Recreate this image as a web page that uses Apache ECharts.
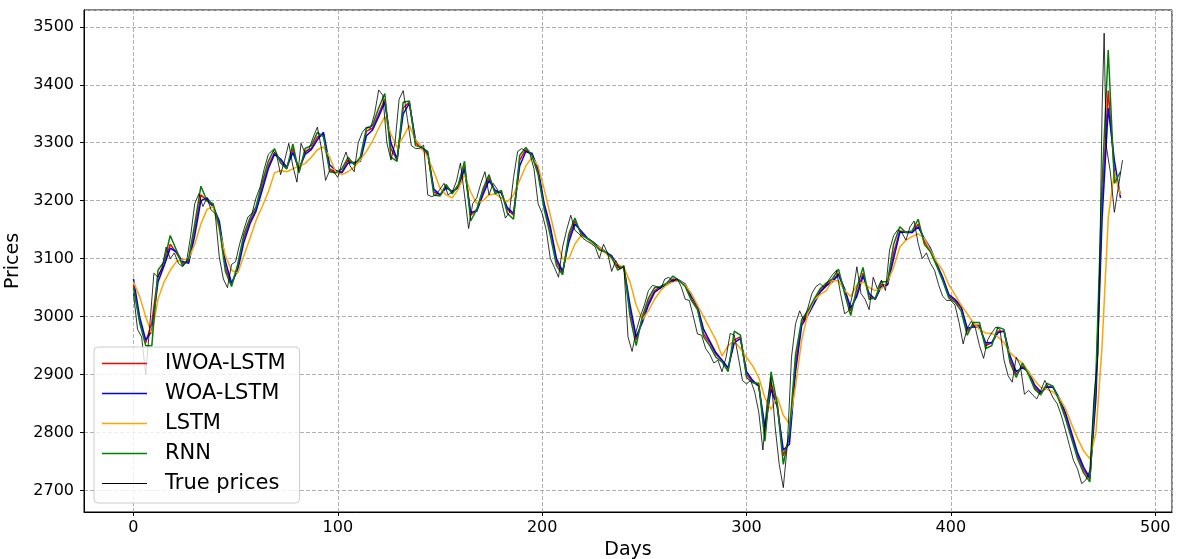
<!DOCTYPE html>
<html>
<head>
<meta charset="utf-8">
<script src="https://cdn.jsdelivr.net/npm/echarts@6/dist/echarts.min.js"></script>
<style>
  html, body { margin: 0; padding: 0; background: #fff; }
  #chart { width: 1177px; height: 559px; }
</style>
</head>
<body>
<div id="chart"></div>
<script>
// true prices, every second day
const trueDays = [
  0, 2, 4, 6, 8, 10, 12, 14, 16, 18,
  20, 22, 24, 26, 28, 30, 32, 34, 36, 38,
  40, 42, 44, 46, 48, 50, 52, 54, 56, 58,
  60, 62, 64, 66, 68, 70, 72, 74, 76, 78,
  80, 82, 84, 86, 88, 90, 92, 94, 96, 98,
  100, 102, 104, 106, 108, 110, 112, 114, 116, 118,
  120, 122, 124, 126, 128, 130, 132, 134, 136, 138,
  140, 142, 144, 146, 148, 150, 152, 154, 156, 158,
  160, 162, 164, 166, 168, 170, 172, 174, 176, 178,
  180, 182, 184, 186, 188, 190, 192, 194, 196, 198,
  200, 202, 204, 206, 208, 210, 212, 214, 216, 218,
  220, 222, 224, 226, 228, 230, 232, 234, 236, 238,
  240, 242, 244, 246, 248, 250, 252, 254, 256, 258,
  260, 262, 264, 266, 268, 270, 272, 274, 276, 278,
  280, 282, 284, 286, 288, 290, 292, 294, 296, 298,
  300, 302, 304, 306, 308, 310, 312, 314, 316, 318,
  320, 322, 324, 326, 328, 330, 332, 334, 336, 338,
  340, 342, 344, 346, 348, 350, 352, 354, 356, 358,
  360, 362, 364, 366, 368, 370, 372, 374, 376, 378,
  380, 382, 384, 386, 388, 390, 392, 394, 396, 398,
  400, 402, 404, 406, 408, 410, 412, 414, 416, 418,
  420, 422, 424, 426, 428, 430, 432, 434, 436, 438,
  440, 442, 444, 446, 448, 450, 452, 454, 456, 458,
  460, 462, 464, 466, 468, 470, 472, 473, 474, 475,
  476, 478, 480, 482, 484
]
const truePrices = [
  3040, 2978, 2965, 2900, 2985, 3075, 3068, 3085, 3120, 3100,
  3110, 3092, 3086, 3095, 3140, 3195, 3212, 3190, 3205, 3184,
  3178, 3103, 3065, 3050, 3090, 3095, 3126, 3150, 3172, 3178,
  3205, 3224, 3255, 3280, 3287, 3280, 3245, 3270, 3299, 3260,
  3232, 3299, 3282, 3290, 3310, 3327, 3290, 3235, 3252, 3250,
  3240, 3265, 3284, 3260, 3250, 3300, 3318, 3327, 3325, 3350,
  3391, 3382, 3300, 3270, 3300, 3375, 3390, 3342, 3295, 3290,
  3290, 3296, 3210, 3207, 3210, 3220, 3230, 3210, 3215, 3233,
  3265, 3210, 3152, 3195, 3205, 3230, 3250, 3210, 3230, 3220,
  3200, 3170, 3180, 3240, 3285, 3290, 3285, 3281, 3255, 3195,
  3178, 3149, 3100, 3085, 3068, 3120, 3150, 3175, 3149, 3143,
  3135, 3130, 3126, 3120, 3100, 3125, 3110, 3078, 3097, 3082,
  3086, 2965, 2940, 2975, 3000, 3020, 3045, 3054, 3052, 3048,
  3065, 3068, 3060, 3066, 3052, 3030, 3028, 3000, 2970, 2968,
  2945, 2935, 2920, 2925, 2905, 2930, 2971, 2968, 2930, 2890,
  2884, 2890, 2870, 2835, 2770, 2850, 2895, 2810, 2745, 2705,
  2780, 2930, 2988, 3010, 2994, 3015, 3040, 3052, 3057, 3050,
  3062, 3072, 3080, 3040, 3005, 3010, 3040, 3086, 3040, 3030,
  3012, 3068, 3048, 3063, 3045, 3115, 3140, 3150, 3145, 3132,
  3155, 3165, 3126, 3100, 3110, 3092, 3080, 3055, 3035, 3028,
  3028, 3020, 2990, 2953, 2980, 2992, 2980, 2950, 2928, 2960,
  2972, 2982, 2978, 2925, 2898, 2887, 2930, 2915, 2866, 2873,
  2865, 2858, 2873, 2890, 2875, 2860, 2850, 2830, 2805, 2778,
  2752, 2737, 2712, 2718, 2735, 2860, 2935, 3130, 3360, 3489,
  3295, 3250, 3180, 3225, 3270
]

// model predictions, read every third day
const predDays = [
  0, 3, 6, 9, 12, 15, 18, 21, 24, 27,
  30, 33, 36, 39, 42, 45, 48, 51, 54, 57,
  60, 63, 66, 69, 72, 75, 78, 81, 84, 87,
  90, 93, 96, 99, 102, 105, 108, 111, 114, 117,
  120, 123, 126, 129, 132, 135, 138, 141, 144, 147,
  150, 153, 156, 159, 162, 165, 168, 171, 174, 177,
  180, 183, 186, 189, 192, 195, 198, 201, 204, 207,
  210, 213, 216, 219, 222, 225, 228, 231, 234, 237,
  240, 243, 246, 249, 252, 255, 258, 261, 264, 267,
  270, 273, 276, 279, 282, 285, 288, 291, 294, 297,
  300, 303, 306, 309, 312, 315, 318, 321, 324, 327,
  330, 333, 336, 339, 342, 345, 348, 351, 354, 357,
  360, 363, 366, 369, 372, 375, 378, 381, 384, 387,
  390, 393, 396, 399, 402, 405, 408, 411, 414, 417,
  420, 423, 426, 429, 432, 435, 438, 441, 444, 447,
  450, 453, 456, 459, 462, 465, 468, 471, 474, 477,
  480, 483
]
const iwoaLstm = [
  3055, 2995, 2955, 2990, 3070, 3090, 3125, 3110, 3092, 3095,
  3150, 3210, 3200, 3190, 3160, 3085, 3055, 3085, 3135, 3165,
  3185, 3225, 3260, 3283, 3270, 3255, 3290, 3250, 3285, 3290,
  3310, 3315, 3255, 3250, 3250, 3270, 3265, 3270, 3320, 3325,
  3350, 3375, 3290, 3270, 3360, 3370, 3300, 3290, 3280, 3215,
  3210, 3225, 3215, 3225, 3260, 3175, 3185, 3215, 3240, 3215,
  3215, 3185, 3175, 3270, 3288, 3280, 3250, 3190, 3150, 3095,
  3075, 3135, 3165, 3145, 3135, 3128, 3118, 3110, 3105, 3085,
  3085, 3010, 2960, 2995, 3025, 3045, 3052, 3055, 3065, 3062,
  3055, 3030, 3015, 2970, 2955, 2935, 2925, 2910, 2960, 2965,
  2900, 2888, 2880, 2800, 2885, 2850, 2760, 2790, 2920, 2990,
  3005, 3025, 3045, 3055, 3062, 3075, 3045, 3010, 3040, 3075,
  3035, 3030, 3055, 3055, 3110, 3148, 3145, 3145, 3160, 3130,
  3115, 3090, 3065, 3035, 3028, 3015, 2975, 2985, 2985, 2950,
  2955, 2975, 2975, 2925, 2900, 2915, 2905, 2878, 2868, 2880,
  2878, 2858, 2830, 2795, 2760, 2735, 2720, 2880, 3200, 3390,
  3250, 3210
]
const woaLstm = [
  3065, 3000, 2960, 2975, 3060, 3088, 3118, 3112, 3095, 3092,
  3140, 3200, 3205, 3190, 3165, 3095, 3058, 3080, 3128, 3160,
  3182, 3218, 3255, 3280, 3272, 3258, 3283, 3255, 3280, 3288,
  3305, 3318, 3262, 3252, 3248, 3265, 3266, 3268, 3312, 3322,
  3345, 3370, 3300, 3272, 3350, 3368, 3305, 3292, 3282, 3220,
  3210, 3222, 3216, 3222, 3255, 3180, 3182, 3210, 3235, 3218,
  3213, 3188, 3178, 3260, 3285, 3282, 3255, 3195, 3155, 3100,
  3078, 3128, 3160, 3148, 3136, 3128, 3120, 3112, 3105, 3088,
  3085, 3020, 2965, 2990, 3020, 3042, 3050, 3055, 3063, 3063,
  3056, 3035, 3018, 2978, 2958, 2938, 2925, 2912, 2955, 2962,
  2905, 2890, 2880, 2810, 2875, 2845, 2770, 2780, 2905, 2985,
  3002, 3022, 3042, 3053, 3060, 3072, 3048, 3015, 3035, 3070,
  3040, 3030, 3052, 3055, 3100, 3145, 3146, 3145, 3155, 3135,
  3118, 3092, 3068, 3038, 3030, 3018, 2980, 2982, 2982, 2955,
  2955, 2972, 2975, 2932, 2905, 2912, 2905, 2882, 2870, 2878,
  2878, 2860, 2835, 2800, 2765, 2740, 2722, 2860, 3170, 3360,
  3270, 3205
]
const lstm = [
  3060, 3035, 3000, 2970, 3030, 3060, 3080, 3095, 3098, 3100,
  3125, 3160, 3185, 3190, 3150, 3105, 3080, 3075, 3105, 3135,
  3166, 3190, 3215, 3248, 3252, 3250, 3255, 3260, 3264, 3275,
  3288, 3293, 3275, 3250, 3245, 3250, 3258, 3270, 3285, 3303,
  3325, 3345, 3315, 3292, 3310, 3330, 3305, 3292, 3275, 3250,
  3222, 3210, 3205, 3220, 3245, 3215, 3195, 3200, 3210, 3212,
  3205, 3198, 3210, 3235, 3260, 3275, 3260, 3220, 3175, 3130,
  3100, 3100, 3125, 3140, 3135, 3125, 3120, 3110, 3100, 3090,
  3085, 3060, 3020, 2995, 3010, 3030, 3045, 3055, 3060, 3062,
  3055, 3040, 3020, 3000, 2980, 2960, 2932, 2950, 2958, 2945,
  2930, 2915, 2895, 2860, 2840, 2862, 2830, 2815, 2880, 2960,
  3005, 3028, 3038, 3045, 3062, 3062, 3045, 3035, 3055, 3060,
  3050, 3045, 3048, 3060, 3085, 3120, 3132, 3138, 3143, 3135,
  3115, 3095, 3080, 3055, 3038, 3020, 3005, 2990, 2978, 2972,
  2971, 2965, 2955, 2938, 2928, 2920, 2905, 2890, 2878, 2875,
  2870, 2860, 2842, 2815, 2790, 2768, 2755, 2800, 2950, 3170,
  3250, 3210
]
const rnn = [
  3050, 2990, 2950, 2950, 3080, 3095, 3140, 3115, 3088, 3100,
  3160, 3225, 3200, 3195, 3155, 3078, 3052, 3090, 3142, 3170,
  3190, 3232, 3268, 3290, 3265, 3255, 3298, 3248, 3290, 3295,
  3318, 3310, 3250, 3248, 3255, 3275, 3262, 3275, 3325, 3330,
  3360, 3385, 3275, 3268, 3370, 3372, 3295, 3292, 3285, 3210,
  3208, 3228, 3212, 3228, 3268, 3165, 3185, 3220, 3245, 3212,
  3218, 3178, 3168, 3278, 3292, 3278, 3245, 3185, 3140, 3088,
  3072, 3142, 3170, 3142, 3135, 3128, 3115, 3112, 3102, 3080,
  3088, 3000, 2950, 3000, 3032, 3050, 3052, 3058, 3070, 3062,
  3052, 3028, 3012, 2965, 2950, 2930, 2922, 2905, 2975, 2968,
  2895, 2886, 2885, 2785, 2905, 2850, 2745, 2800, 2935, 2995,
  3010, 3030, 3048, 3058, 3065, 3082, 3040, 3002, 3050, 3085,
  3030, 3032, 3060, 3060, 3125, 3155, 3145, 3148, 3168, 3125,
  3112, 3088, 3062, 3032, 3025, 3010, 2968, 2990, 2990, 2945,
  2950, 2982, 2978, 2920, 2895, 2920, 2900, 2875, 2865, 2885,
  2880, 2855, 2825, 2790, 2755, 2730, 2715, 2900, 3230, 3460,
  3230, 3250
]

const FONT = 'DejaVu Sans'

function pairs(days, vals) {
  return days.map((d, i) => [d, vals[i]])
}

function lineSeries(name, color, width, days, vals) {
  return {
    name: name,
    type: 'line',
    data: pairs(days, vals),
    showSymbol: false,
    symbol: 'none',
    color: color,
    lineStyle: { color: color, width: width },
    animation: false
  }
}

// thin bar icons for the legend, like matplotlib's line handles
const thickIcon = 'path://M0,0h45v1.5h-45z'
const thinIcon = 'path://M0,0h45v0.9h-45z'

const chart = echarts.init(document.getElementById('chart'), null, { renderer: 'canvas' })

chart.setOption({
  backgroundColor: '#fff',
  textStyle: { fontFamily: FONT },
  grid: {
    left: 84,
    right: 5,
    top: 10,
    bottom: 47,
    containLabel: false,
    outerBoundsMode: 'none',
    show: true,
    borderColor: '#000',
    borderWidth: 1,
    backgroundColor: 'transparent'
  },
  legend: {
    orient: 'vertical',
    left: 94,
    top: 347,
    padding: [6, 14, 9, 8],
    itemGap: 9,
    itemWidth: 45,
    itemHeight: 14,
    backgroundColor: 'rgba(255,255,255,0.8)',
    borderColor: '#cccccc',
    borderWidth: 1,
    borderRadius: 4,
    itemStyle: { borderWidth: 0 },
    textStyle: {
      fontFamily: FONT,
      fontSize: 21,
      lineHeight: 21,
      color: '#000',
      padding: [0, 0, 0, 13]
    },
    data: [
      { name: 'IWOA-LSTM', icon: thickIcon },
      { name: 'WOA-LSTM', icon: thickIcon },
      { name: 'LSTM', icon: thickIcon },
      { name: 'RNN', icon: thickIcon },
      { name: 'True prices', icon: thinIcon }
    ]
  },
  xAxis: {
    type: 'value',
    min: -24.2,
    max: 508.2,
    splitNumber: 5,
    name: 'Days',
    nameLocation: 'middle',
    nameGap: 28,
    nameTextStyle: { fontFamily: FONT, fontSize: 19, color: '#000' },
    axisLine: { show: true, onZero: false, lineStyle: { color: '#000', width: 1 } },
    axisTick: { show: true, length: 4, lineStyle: { color: '#000' } },
    axisLabel: {
      fontFamily: FONT, fontSize: 16, color: '#000', margin: 8,
      showMinLabel: false, showMaxLabel: false,
      formatter: v => String(v)
    },
    splitLine: { show: true, lineStyle: { color: '#b0b0b0', type: [4, 2], width: 1 } }
  },
  yAxis: {
    type: 'value',
    min: 2663,
    max: 3529,
    splitNumber: 8,
    name: 'Prices',
    nameLocation: 'middle',
    nameGap: 58,
    nameTextStyle: { fontFamily: FONT, fontSize: 19, color: '#000' },
    axisLine: { show: true, onZero: false, lineStyle: { color: '#000', width: 1 } },
    axisTick: { show: true, length: 4, lineStyle: { color: '#000' } },
    axisLabel: {
      fontFamily: FONT, fontSize: 16, color: '#000', margin: 10,
      showMinLabel: false, showMaxLabel: false,
      formatter: v => String(v)
    },
    splitLine: { show: true, lineStyle: { color: '#b0b0b0', type: [4, 2], width: 1 } }
  },
  series: [
    lineSeries('IWOA-LSTM', '#ff0000', 1.5, predDays, iwoaLstm),
    lineSeries('WOA-LSTM', '#0000ff', 1.5, predDays, woaLstm),
    lineSeries('LSTM', '#ffa500', 1.5, predDays, lstm),
    lineSeries('RNN', '#008000', 1.5, predDays, rnn),
    lineSeries('True prices', '#000000', 0.8, trueDays, truePrices)
  ]
})
</script>
</body>
</html>
